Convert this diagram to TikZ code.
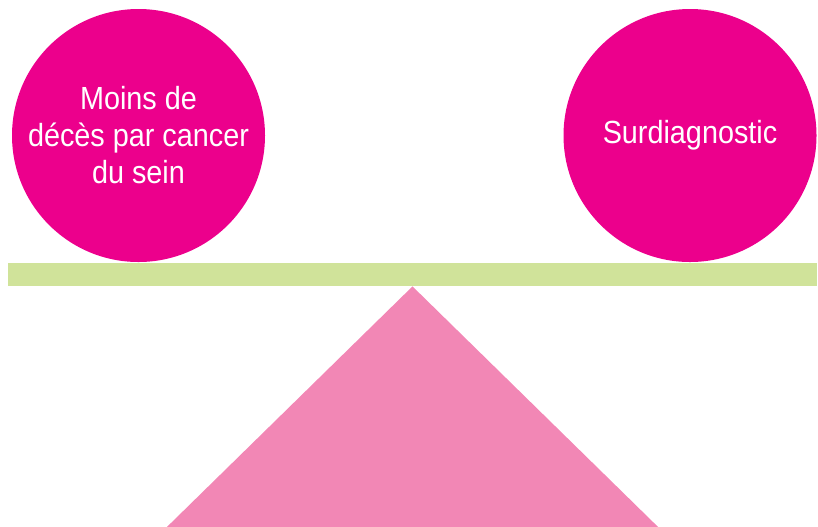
\documentclass[tikz,border=0pt]{standalone}
\usepackage{fontspec}
\setmainfont[FakeStretch=0.9]{Liberation Sans}
\usepackage{tikz}
\usetikzlibrary{positioning}
\definecolor{ballpink}{RGB}{236,0,140}
\definecolor{beamgreen}{RGB}{208,227,154}
\definecolor{pivotpink}{RGB}{242,135,181}
\tikzset{
    %Define style for the two weights
    weight/.style={
           circle,
           fill=ballpink,
           draw=none,
           inner sep=0pt,
           minimum size=126.5pt,
           text=white,
           align=center,
           font=\fontsize{16}{18.5}\selectfont},
 %
    % Define style for the beam
    beam/.style={
           rectangle,
           fill=beamgreen,
           draw=none,
           inner sep=0pt,
           minimum width=404.5pt,
           minimum height=11.5pt}
}
\begin{document}
\begin{tikzpicture}[x=0.5pt,y=-0.5pt]
  \useasboundingbox (0,0) rectangle (818,526);
  \clip (0,0) rectangle (818,526);

  \node[beam] (bar) at (412.5,274.5) {};
  \node[weight] (benefit) at (138.5,135.5) {Moins de\\ décès par cancer\\ du sein};
  \node[weight] (harm) at (690,135.5) {Surdiagnostic};

  % pivot under the beam
  \coordinate (apex) at (bar.south);
  \fill[pivotpink] (apex) -- ++(-245.5,240.5) -- ++(491,0) -- cycle;
\end{tikzpicture}
\end{document}
